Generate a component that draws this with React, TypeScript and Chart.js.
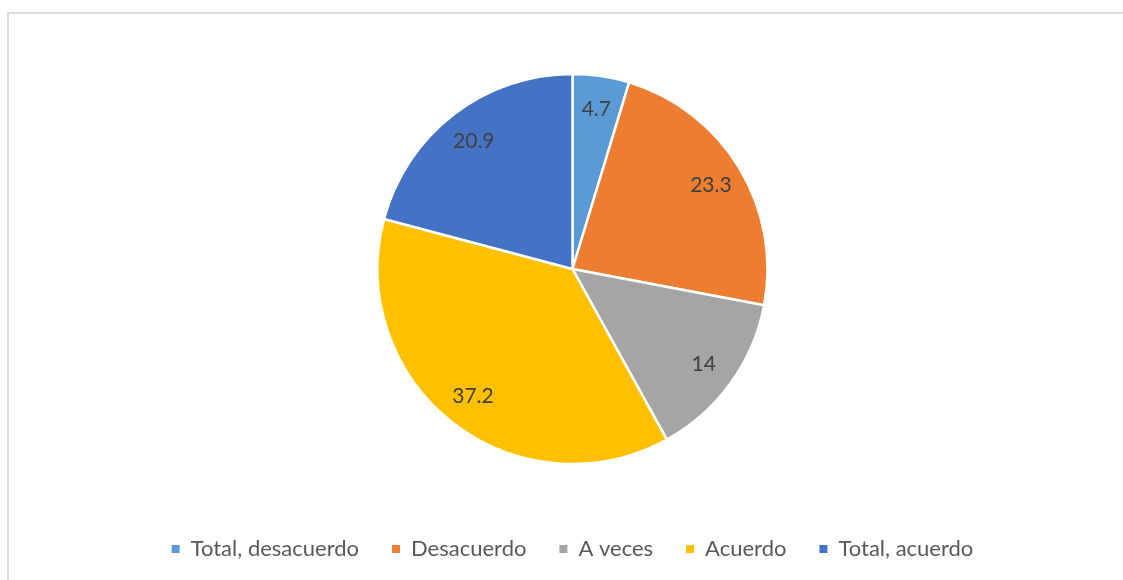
import React, { useEffect, useRef } from "react";
import { Chart, registerables } from "chart.js";

Chart.register(...registerables);

const categories = ["Total, desacuerdo", "Desacuerdo", "A veces", "Acuerdo", "Total, acuerdo"];
const values = [4.7, 23.3, 14, 37.2, 20.9];
const colors = ["#5B9BD5", "#ED7D31", "#A5A5A5", "#FFC000", "#4472C4"];

const FONT = "Lato, 'Open Sans', 'Noto Sans', sans-serif";

const labelPlugin = {
  id: "sliceLabels",
  afterDatasetsDraw(chart: any) {
    const ctx = chart.ctx;
    const meta = chart.getDatasetMeta(0);
    ctx.save();
    ctx.font = `21px ${FONT}`;
    ctx.fillStyle = "#404040";
    ctx.textAlign = "center";
    ctx.textBaseline = "middle";
    meta.data.forEach((arc: any, i: number) => {
      const p = arc.getProps(["x", "y", "startAngle", "endAngle", "outerRadius"], true);
      const mid = (p.startAngle + p.endAngle) / 2;
      const r = p.outerRadius * 0.83;
      ctx.fillText(String(values[i]), p.x + Math.cos(mid) * r, p.y + Math.sin(mid) * r);
    });
    ctx.restore();
  },
};

export default function App() {
  const ref = useRef<HTMLCanvasElement | null>(null);
  useEffect(() => {
    if (!ref.current) return;
    const chart = new Chart(ref.current, {
      type: "pie",
      data: {
        labels: categories,
        datasets: [
          {
            data: values,
            backgroundColor: colors,
            borderColor: "#ffffff",
            borderWidth: 2.5,
            radius: 195,
          },
        ],
      },
      options: {
        responsive: false,
        animation: false,
        layout: { padding: { top: 33, bottom: 10, left: 22, right: 0 } },
        plugins: {
          tooltip: { enabled: false },
          legend: {
            position: "bottom",
            labels: {
              boxWidth: 8,
              boxHeight: 8,
              padding: 33,
              color: "#595959",
              font: { size: 22, family: FONT },
              generateLabels(c: any) {
                const items = Chart.overrides.pie.plugins.legend.labels.generateLabels(c);
                return items.map((it: any) => ({ ...it, lineWidth: 0, strokeStyle: "rgba(0,0,0,0)" }));
              },
            },
          },
        },
      },
      plugins: [labelPlugin],
    });
    return () => chart.destroy();
  }, []);
  return (
    <div>
      <div
        style={{
          position: "fixed",
          left: 7,
          top: 12,
          width: 1200,
          height: 700,
          border: "2px solid #dcdcdc",
          boxSizing: "border-box",
        }}
      />
      <canvas
        ref={ref}
        width={1123}
        height={580}
        style={{ position: "fixed", left: 0, top: 0, width: 1123, height: 580 }}
      />
    </div>
  );
}
